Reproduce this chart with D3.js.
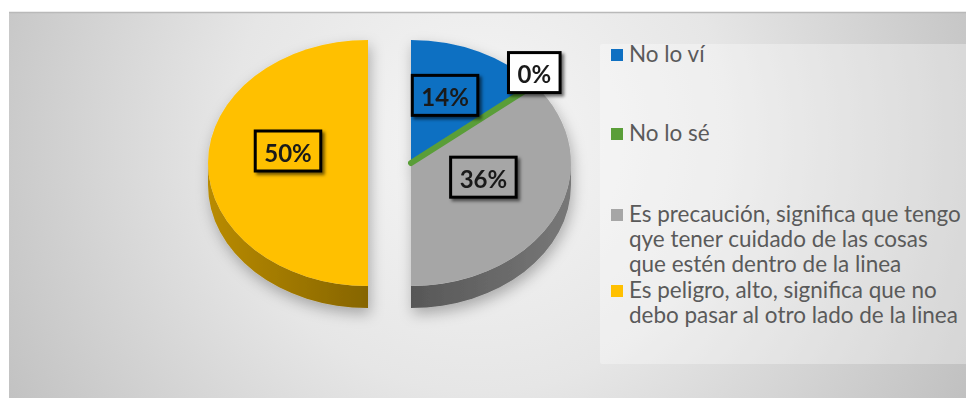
<!DOCTYPE html>
<html>
<head>
<meta charset="utf-8">
<script src="https://cdn.jsdelivr.net/npm/d3@7"></script>
<style>
  html, body { margin: 0; padding: 0; background: #ffffff; overflow: hidden; }
  svg { display: block; }
</style>
</head>
<body>
<svg id="chart" width="966" height="398"></svg>
<script>
// Survey answers (percent of respondents)
const categories = [
  "No lo ví",
  "No lo sé",
  "Es precaución, significa que tengo\nqye tener cuidado de las cosas\nque estén dentro de la linea",
  "Es peligro, alto, significa que no\ndebo pasar al otro lado de la linea"
];
const values = [14, 0, 36, 50];

// Slice colours and styling
const colors = ["#0F70C2", "#5A9E38", "#A6A6A6", "#FFC000"];
const explodePx = [0, 0, 0, 43];          // outward offset of each slice
const legendBaselines = [62, 141, 222, 298];

const W = 966, H = 398;
const cx = 411, cy = 163, rx = 160, ry = 123, depth = 22;
const k = ry / rx;

const svg = d3.select("#chart");
const defs = svg.append("defs");

// ---------- background ----------
const bg = defs.append("radialGradient").attr("id", "bgGrad")
  .attr("gradientUnits", "userSpaceOnUse")
  .attr("cx", 480).attr("cy", 140).attr("r", 560);
bg.append("stop").attr("offset", 0).attr("stop-color", "#f6f6f6");
bg.append("stop").attr("offset", 0.45).attr("stop-color", "#e6e6e6");
bg.append("stop").attr("offset", 1).attr("stop-color", "#bfbfbf");

svg.append("rect").attr("x", 9).attr("y", 12).attr("width", W - 9).attr("height", H - 12)
  .attr("fill", "url(#bgGrad)");
svg.append("line").attr("x1", 9).attr("x2", W).attr("y1", 12.5).attr("y2", 12.5)
  .attr("stroke", "#b9b9b9").attr("stroke-width", 1.5);

// ---------- filters ----------
const pieShadow = defs.append("filter").attr("id", "pieShadow")
  .attr("x", "-20%").attr("y", "-20%").attr("width", "140%").attr("height", "140%");
pieShadow.append("feDropShadow").attr("dx", 2).attr("dy", 6).attr("stdDeviation", 7)
  .attr("flood-color", "#000").attr("flood-opacity", 0.28);

const boxShadow = defs.append("filter").attr("id", "boxShadow")
  .attr("x", "-30%").attr("y", "-30%").attr("width", "160%").attr("height", "160%");
boxShadow.append("feDropShadow").attr("dx", 2.5).attr("dy", 2.5).attr("stdDeviation", 1.8)
  .attr("flood-color", "#000").attr("flood-opacity", 0.55);

// ---------- pie layout ----------
const total = d3.sum(values);
const pie = d3.pie().sort(null).value(d => d).startAngle(0).endAngle(2 * Math.PI);
const arcs = pie(values).map((a, i) => {
  const mid = (a.startAngle + a.endAngle) / 2;
  return {
    ...a, i, mid,
    ox: explodePx[i] * Math.sin(mid),
    oy: -explodePx[i] * Math.cos(mid) * k
  };
});

const arcGen = d3.arc().innerRadius(0).outerRadius(rx);
const pieG = svg.append("g").attr("filter", "url(#pieShadow)");

// side-wall gradients
arcs.forEach(a => {
  const base = d3.color(colors[a.i]);
  const light = base.darker(0.9).formatHex();
  const dark = base.darker(1.8).formatHex();
  const rightSide = Math.sin(a.mid) > 0;
  const g = defs.append("linearGradient").attr("id", "side" + a.i)
    .attr("x1", 0).attr("x2", 1).attr("y1", 0).attr("y2", 0);
  g.append("stop").attr("offset", 0).attr("stop-color", rightSide ? dark : light);
  g.append("stop").attr("offset", 1).attr("stop-color", rightSide ? light : dark);
});

// outer walls: only the front half (angles between 90° and 270°) faces the viewer
const D = depth / k;
arcs.forEach(a => {
  const s = Math.max(a.startAngle, Math.PI / 2);
  const e = Math.min(a.endAngle, 3 * Math.PI / 2);
  if (e <= s) return;
  const p = d3.path();
  p.arc(0, 0, rx, s - Math.PI / 2, e - Math.PI / 2, false);
  p.lineTo(rx * Math.sin(e), -rx * Math.cos(e) + D);
  p.arc(0, D, rx, e - Math.PI / 2, s - Math.PI / 2, true);
  p.closePath();
  pieG.append("path")
    .attr("transform", `translate(${cx + a.ox},${cy + a.oy}) scale(1,${k})`)
    .attr("d", p.toString())
    .attr("fill", `url(#side${a.i})`);
});

// top faces; empty slices go last so their coloured edge stays visible
const isEmpty = a => a.endAngle - a.startAngle < 1e-6;
const topOrder = arcs.filter(a => !isEmpty(a)).concat(arcs.filter(isEmpty));
topOrder.forEach(a => {
  const path = pieG.append("path")
    .attr("transform", `translate(${cx + a.ox},${cy + a.oy}) scale(1,${k})`)
    .attr("d", arcGen(a))
    .attr("fill", colors[a.i]);
  if (isEmpty(a)) {
    path.attr("stroke", colors[a.i]).attr("stroke-width", 6)
      .attr("stroke-linejoin", "round")
      .attr("vector-effect", "non-scaling-stroke");
  }
});

// ---------- data labels ----------
const fmt = d3.format(".0%");
const labelG = svg.append("g");
arcs.forEach(a => {
  const frac = a.value / total < 0.01 ? 1.0 : 0.5;
  const x = cx + a.ox + frac * rx * Math.sin(a.mid);
  const y = cy - 12 + a.oy - frac * ry * Math.cos(a.mid);
  const g = labelG.append("g").attr("transform", `translate(${x},${y})`);
  const rect = g.append("rect").attr("filter", "url(#boxShadow)")
    .attr("fill", a.value === 0 ? "#ffffff" : colors[a.i])
    .attr("stroke", "#000").attr("stroke-width", 3);
  const t = g.append("text")
    .attr("text-anchor", "middle").attr("dominant-baseline", "central")
    .attr("y", 1)
    .style("font-family", "Lato, 'Open Sans', sans-serif")
    .style("font-weight", 700).style("font-size", "24px")
    .attr("fill", "#1a1a1a")
    .text(fmt(a.value / total));
  const w = t.node().getComputedTextLength() + 18;
  rect.attr("x", -w / 2).attr("y", -20).attr("width", w).attr("height", 40);
});

// ---------- legend ----------
svg.append("rect").attr("x", 600).attr("y", 44).attr("width", 370).attr("height", 320)
  .attr("rx", 2).attr("fill", "#ffffff").attr("fill-opacity", 0.32);

const legendG = svg.append("g")
  .style("font-family", "Lato, 'Open Sans', sans-serif")
  .attr("fill", "#5a5a5a");

// size the legend font so the longest line spans the legend width
const probe = legendG.append("text").style("font-size", "20px")
  .text(categories[2].split("\n")[0]);
const probeW = probe.node().getComputedTextLength();
probe.remove();
const legendFont = 20 * 332 / probeW;
const lineH = 25;

categories.forEach((c, i) => {
  const base = legendBaselines[i];
  legendG.append("rect").attr("x", 611).attr("y", base - 13)
    .attr("width", 12).attr("height", 12).attr("fill", colors[i]);
  const txt = legendG.append("text").attr("x", 629).attr("y", base)
    .style("font-size", legendFont + "px");
  c.split("\n").forEach((line, j) => {
    txt.append("tspan").attr("x", 629).attr("y", base + j * lineH).text(line);
  });
});
</script>
</body>
</html>
